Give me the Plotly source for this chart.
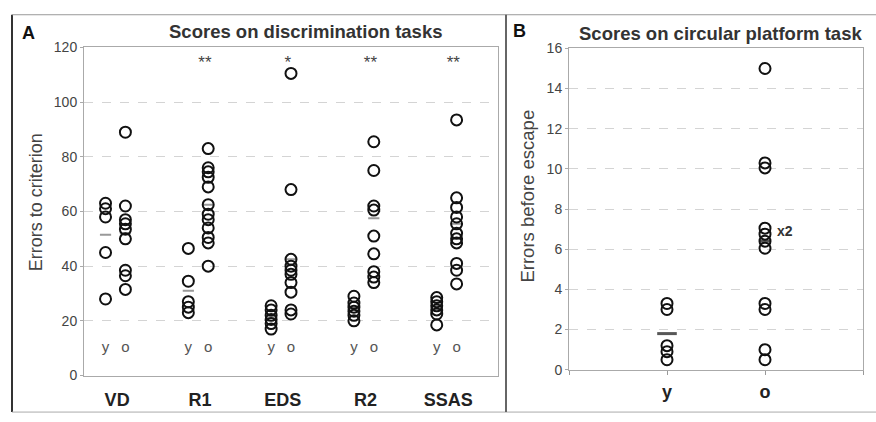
import plotly.graph_objects as go

# ---------------- data ----------------
tasks = ["VD", "R1", "EDS", "R2", "SSAS"]
vd_young = [63, 61, 58, 45, 28]
vd_old = [89, 62, 57, 55.5, 53.5, 50, 38.5, 36.5, 31.5]
r1_young = [46.5, 34.5, 27, 25, 23]
r1_old = [83, 76, 74.5, 72.5, 69, 62.5, 59, 57, 54, 50.5, 48.5, 40]
eds_young = [25.5, 24, 22, 20.5, 19, 17]
eds_old = [110.5, 68, 42.5, 40, 38.5, 37, 34, 30.5, 24, 22.5]
r2_young = [29, 26.5, 25, 23.5, 22, 20]
r2_old = [85.5, 75, 62, 60.5, 51, 44.5, 38, 36, 34]
ssas_young = [28.5, 27, 25.5, 24, 22.5, 18.5]
ssas_old = [93.5, 65, 61.5, 58, 55.5, 52, 50, 48.5, 41, 38.5, 33.5]
young_means = [51.5, 31, 21.5, 24.5, 24.5]
old_means = [52, 62.5, 42.5, 57.5, 55.5]
significance = ["", "**", "*", "**", "**"]
age_labels = ["y", "o"]

platform_groups = ["y", "o"]
platform_young = [3.3, 3.0, 1.2, 0.9, 0.5]
platform_old = [15, 10.3, 10.05, 7.05, 6.75, 6.4, 6.05, 3.3, 3.0, 1.0, 0.5]
platform_means = [1.8, 6.4]
duplicate_note = "x2"
duplicate_value = 6.9

young_sets = [vd_young, r1_young, eds_young, r2_young, ssas_young]
old_sets = [vd_old, r1_old, eds_old, r2_old, ssas_old]

W, H = 876, 422
def px(x):
    return x / W
def py(y):
    return 1 - y / H

FONT = "Arial, Liberation Sans, sans-serif"
Y_OFF, O_OFF, T_OFF = 0.26, 0.5, 0.4

fig = go.Figure()

circ = dict(symbol="circle-open", size=11, color="#111", line=dict(width=2, color="#111"))

# ---- panel A ----
yx, yy, ox, oy = [], [], [], []
for i, (ys, os_) in enumerate(zip(young_sets, old_sets)):
    yx += [i + Y_OFF] * len(ys); yy += ys
    ox += [i + O_OFF] * len(os_); oy += os_
fig.add_trace(go.Scatter(x=[i + Y_OFF for i in range(5)] + [i + O_OFF for i in range(5)],
                         y=young_means + old_means, mode="markers", xaxis="x", yaxis="y",
                         marker=dict(symbol="line-ew", size=8, color="#999",
                                     line=dict(width=2, color="#999")), hoverinfo="skip"))
fig.add_trace(go.Scatter(x=yx, y=yy, mode="markers", marker=circ, xaxis="x", yaxis="y"))
fig.add_trace(go.Scatter(x=ox, y=oy, mode="markers", marker=circ, xaxis="x", yaxis="y"))

# y / o labels
lx, ly, lt = [], [], []
for i in range(5):
    lx += [i + Y_OFF, i + O_OFF]; ly += [10, 10]; lt += age_labels
fig.add_trace(go.Scatter(x=lx, y=ly, text=lt, mode="text", xaxis="x", yaxis="y",
                         textfont=dict(family=FONT, size=15, color="#555")))
# significance stars
fig.add_trace(go.Scatter(x=[i + 0.46 for i in range(5)], y=[114] * 5, text=significance,
                         mode="text", xaxis="x", yaxis="y",
                         textfont=dict(family=FONT, size=17, color="#444")))

# ---- panel B ----
fig.add_trace(go.Scatter(x=[1, 2], y=platform_means, mode="markers", xaxis="x2", yaxis="y2",
                         marker=dict(symbol="line-ew", size=[14, 8], color="#111",
                                     line=dict(width=3, color="#111")), hoverinfo="skip"))
fig.add_trace(go.Scatter(x=[1] * len(platform_young), y=platform_young, mode="markers",
                         marker=circ, xaxis="x2", yaxis="y2"))
fig.add_trace(go.Scatter(x=[2] * len(platform_old), y=platform_old, mode="markers",
                         marker=circ, xaxis="x2", yaxis="y2"))

axis_common = dict(showline=True, linecolor="#aaa", mirror=True, zeroline=False)
fig.update_layout(
    width=W, height=H, margin=dict(l=0, r=0, t=0, b=0),
    paper_bgcolor="white", plot_bgcolor="white", showlegend=False,
    font=dict(family=FONT),
    xaxis=dict(domain=[px(84), px(498)], range=[0, 5], tickvals=[i + T_OFF for i in range(5)],
               ticktext=tasks, showgrid=False, ticks="", ticklabelstandoff=8,
               tickfont=dict(family=FONT, size=18, color="#222", weight="bold"), **axis_common),
    yaxis=dict(domain=[py(382), py(41)], range=[0, 120], dtick=20, showgrid=True,
               gridcolor="#d4d4d4", griddash="dash", ticks="outside", ticklen=3, tickcolor="#aaa",
               tickfont=dict(family=FONT, size=14, color="#444"), **axis_common),
    xaxis2=dict(domain=[px(569), px(863)], range=[0, 3], tickvals=[0, 1, 2, 3],
                ticktext=[""] + platform_groups + [""], showgrid=False, ticks="outside",
                ticklen=4, tickcolor="#999", anchor="y2", ticklabelstandoff=2,
                tickfont=dict(family=FONT, size=18, color="#222", weight="bold"), **axis_common),
    yaxis2=dict(domain=[py(376), py(42)], range=[0, 16], dtick=2, showgrid=True, anchor="x2",
                gridcolor="#d4d4d4", griddash="dash", ticks="outside", ticklen=3, tickcolor="#aaa",
                tickfont=dict(family=FONT, size=14, color="#444"), **axis_common),
)

def ann(text, x, y, size, color="#222", bold=False, angle=0, xref="paper", yref="paper", **kw):
    kw.setdefault("xanchor", "center")
    fig.add_annotation(text=text, x=x, y=y, xref=xref, yref=yref, showarrow=False,
                       yanchor="middle", textangle=angle,
                       font=dict(family=FONT, size=size, color=color,
                                 weight="bold" if bold else "normal"), **kw)

ann("A", px(28), py(26), 18, "#111", True)
ann("Scores on discrimination tasks", px(305), py(24), 18.5, "#333", True)
ann("Errors to criterion", px(36), py(202), 18, "#444", angle=-90)
ann("B", px(519), py(24), 18, "#111", True)
ann("Scores on circular platform task", px(720), py(26), 18.5, "#333", True)
ann("Errors before escape", px(528), py(196), 18.5, "#444", angle=-90)
ann(duplicate_note, 2, duplicate_value, 14, "#333", True, xref="x2", yref="y2",
    xanchor="left", xshift=10)

line = lambda x0, y0, x1, y1, c, w: fig.add_shape(type="line", xref="paper", yref="paper",
                                                    x0=px(x0), y0=py(y0), x1=px(x1), y1=py(y1),
                                                    line=dict(color=c, width=w))
line(12, 7, 12, 420, "#333", 2)
line(12, 7, 876, 7, "#999", 1)
line(12, 420, 876, 420, "#aaa", 1)
line(506, 7, 506, 420, "#666", 2)

fig.write_html("out.html", config={"displayModeBar": False},
               post_script="document.body.style.margin='0';document.body.style.overflow='hidden';")
